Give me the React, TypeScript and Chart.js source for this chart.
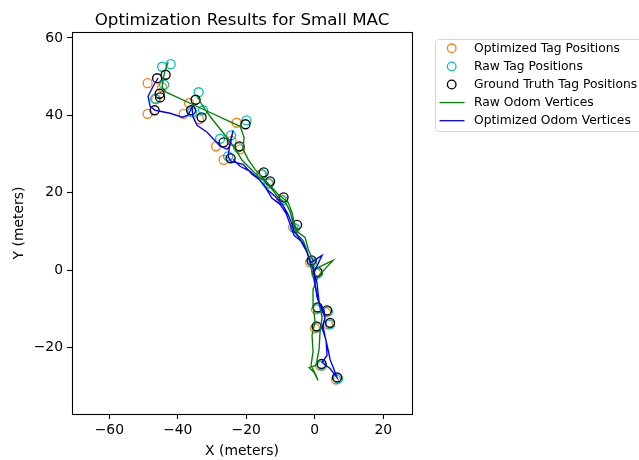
import React, { useEffect, useRef } from 'react';
import { Chart, registerables } from 'chart.js';

Chart.register(...registerables);

const TITLE = 'Optimization Results for Small MAC';
const X_LABEL = 'X (meters)';
const Y_LABEL = 'Y (meters)';
const X_TICKS = [-60, -40, -20, 0, 20];
const Y_TICKS = [-20, 0, 20, 40, 60];
const X_RANGE = [-70.9, 28.4];
const Y_RANGE = [-37.2, 61.55];

const SERIES_NAMES = [
  'Optimized Tag Positions',
  'Raw Tag Positions',
  'Ground Truth Tag Positions',
  'Raw Odom Vertices',
  'Optimized Odom Vertices',
];

// Optimized tag positions
const OPT_TAG_X = [-48.82, -48.82, -38.31, -36.7, -46.34, -44.58, -22.83, -28.82, -26.63, -24.29, -21.81, -15.68, -13.64, -9.84, -6.34, -1.37, 0.38, 0.38, 3.3, 0.09, 3.88, 1.55, 6.22, -33.78];
const OPT_TAG_Y = [48.31, 40.41, 40.41, 43.13, 44.17, 47.27, 38.09, 32.01, 28.51, 33.43, 31.23, 24.76, 22.43, 18.29, 11.05, 1.99, -0.85, -10.17, -10.95, -15.08, -14.05, -24.66, -28.28, 38.99];

// Raw tag positions
const RAW_TAG_X = [-42.1, -44.58, -44.0, -46.63, -33.93, -32.61, -35.82, -19.91, -27.65, -24.44, -22.39, -25.31, -15.39, -13.34, -9.26, -5.75, -0.79, 0.96, 0.96, 3.88, 0.67, 4.47, 2.13, 6.8];
const RAW_TAG_Y = [53.22, 52.57, 47.92, 44.29, 45.98, 41.32, 40.8, 38.73, 33.95, 34.85, 31.75, 29.42, 24.76, 22.43, 18.03, 10.79, 1.99, -0.85, -9.91, -10.69, -14.82, -14.05, -24.66, -28.02];

// Ground truth tag positions
const GT_TAG_X = [-43.56, -46.04, -45.31, -45.17, -46.77, -34.8, -36.12, -33.05, -20.23, -26.63, -21.96, -24.58, -14.9, -13.05, -9.11, -5.17, -0.93, 0.82, 0.82, 3.59, 0.53, 4.47, 1.99, 6.51];
const GT_TAG_Y = [50.5, 49.6, 45.59, 44.63, 41.32, 44.04, 41.32, 39.5, 37.7, 33.04, 32.0, 28.9, 25.28, 22.95, 18.8, 11.67, 2.51, -0.47, -9.65, -10.43, -14.54, -13.64, -24.26, -27.75];

// Raw odometry vertices
const RAW_ODOM_X = [-42.83, -43.71, -44.29, -44.58, -43.42, -32.61, -21.81, -20.64, -20.93, -19.47, -17.43, -15.39, -13.05, -10.72, -7.8, -6.63, -6.04, -4.88, -2.83, -1.96, -0.79, -0.2, 5.34, 0.96, -0.5, -0.5, 0.09, -0.79, -0.5, -1.08, 0.38, 0.96, -0.2, -1.66, 0.38, 1.26, 1.55, 2.13, 1.26, 0.38, -0.5, -1.37, -2.25, -3.42, -5.17, -6.34, -7.21, -8.38, -10.72, -12.47, -14.22, -16.55, -18.89, -21.23, -22.98, -25.02, -27.36, -29.69, -31.45, -33.2, -34.36];
const RAW_ODOM_Y = [53.74, 51.67, 49.34, 47.27, 45.98, 41.58, 37.18, 34.33, 31.23, 28.64, 26.05, 23.98, 21.91, 19.59, 17.52, 14.93, 12.08, 9.75, 8.46, 5.61, 3.03, 0.18, 2.51, -1.63, -4.99, -9.13, -13.27, -16.9, -21.03, -24.66, -27.24, -28.54, -26.47, -25.17, -24.66, -20.52, -15.86, -12.24, -8.62, -4.99, -1.63, 1.73, 5.1, 7.68, 9.24, 12.08, 15.19, 17.26, 18.81, 20.88, 22.69, 24.24, 26.31, 28.38, 30.97, 33.56, 36.14, 38.73, 40.8, 43.13, 44.94];

// Optimized odometry vertices
const OPT_ODOM_X = [-45.75, -47.21, -48.67, -48.09, -46.63, -42.25, -38.74, -36.99, -35.82, -35.53, -34.36, -31.45, -27.65, -25.61, -24.73, -23.85, -24.73, -25.31, -24.44, -20.93, -18.31, -15.97, -13.64, -11.59, -9.26, -7.8, -6.63, -6.04, -4.88, -3.42, -2.25, -1.37, -0.2, 0.67, 1.26, 2.72, 3.01, 2.42, 3.01, 3.88, 4.47, 5.64, 6.51, 4.47, 2.13, 3.59, 3.3, 2.13, 3.01, 1.84, 0.67, 0.09, -0.2, 2.13, -1.08, -2.54, -4.0, -6.04, -7.21, -8.38, -10.13, -12.47, -14.22, -16.26, -18.89, -21.81, -23.85];
const OPT_ODOM_Y = [49.6, 47.53, 44.94, 42.35, 41.32, 40.54, 39.51, 40.03, 42.1, 39.51, 37.44, 35.63, 32.0, 31.23, 32.26, 36.14, 33.04, 29.42, 28.12, 27.35, 24.76, 23.21, 20.62, 19.07, 16.74, 14.41, 11.82, 10.01, 8.72, 6.91, 4.58, 2.25, -0.34, -3.44, -8.36, -10.43, -12.24, -14.57, -17.15, -20.52, -23.1, -25.69, -27.76, -25.43, -23.88, -22.07, -18.19, -14.83, -12.24, -9.65, -7.06, -3.7, -0.6, 3.8, 1.99, 5.1, 7.43, 8.98, 11.82, 14.67, 17.0, 18.55, 21.14, 23.47, 25.54, 26.83, 28.64];

const COLORS = ['#ff7f0e', '#00bfbf', '#000000', '#008000', '#0000ff'];

const FONT = '"DejaVu Sans", Verdana, sans-serif';

function pts(xs: number[], ys: number[]) {
  return xs.map((x, i) => ({ x, y: ys[i] }));
}

const fmt = (v: number) => (v < 0 ? '\u2212' + Math.abs(v) : String(v));

const decorPlugin = {
  id: 'decor',
  afterDraw(chart: any) {
    const { ctx, chartArea } = chart;
    const { left, right, top, bottom } = chartArea;
    ctx.save();
    // frame
    ctx.strokeStyle = '#000';
    ctx.lineWidth = 1.1;
    ctx.strokeRect(Math.round(left) + 0.5, Math.round(top) + 0.5, Math.round(right - left), Math.round(bottom - top));
    // title
    ctx.fillStyle = '#000';
    ctx.font = `16.7px ${FONT}`;
    ctx.textAlign = 'center';
    ctx.textBaseline = 'alphabetic';
    ctx.fillText(TITLE, (left + right) / 2, 25);
    // axis labels
    ctx.font = `13.9px ${FONT}`;
    ctx.fillText(X_LABEL, (left + right) / 2, 455);
    ctx.save();
    ctx.translate(23, (top + bottom) / 2);
    ctx.rotate(-Math.PI / 2);
    ctx.fillText(Y_LABEL, 0, 0);
    ctx.restore();
    // legend
    const bx = 435.5, by = 39.5, bw = 212, bh = 92, r = 3;
    ctx.beginPath();
    ctx.moveTo(bx + r, by);
    ctx.lineTo(bx + bw - r, by);
    ctx.quadraticCurveTo(bx + bw, by, bx + bw, by + r);
    ctx.lineTo(bx + bw, by + bh - r);
    ctx.quadraticCurveTo(bx + bw, by + bh, bx + bw - r, by + bh);
    ctx.lineTo(bx + r, by + bh);
    ctx.quadraticCurveTo(bx, by + bh, bx, by + bh - r);
    ctx.lineTo(bx, by + r);
    ctx.quadraticCurveTo(bx, by, bx + r, by);
    ctx.closePath();
    ctx.fillStyle = 'rgba(255,255,255,0.8)';
    ctx.fill();
    ctx.strokeStyle = '#d6d6d6';
    ctx.lineWidth = 1;
    ctx.stroke();
    ctx.font = `12.3px ${FONT}`;
    ctx.textAlign = 'left';
    ctx.textBaseline = 'middle';
    SERIES_NAMES.forEach((name, i) => {
      const cy = 48.3 + i * 18.1;
      ctx.strokeStyle = COLORS[i];
      if (i < 3) {
        ctx.lineWidth = 1.3;
        ctx.beginPath();
        ctx.arc(451.7, cy, 4.3, 0, Math.PI * 2);
        ctx.stroke();
      } else {
        ctx.lineWidth = 1.3;
        ctx.beginPath();
        ctx.moveTo(439.5, cy);
        ctx.lineTo(464.5, cy);
        ctx.stroke();
      }
      ctx.fillStyle = '#000';
      ctx.fillText(name, 474, cy + 0.5);
    });
    ctx.restore();
  },
};

export default function App() {
  const ref = useRef<HTMLCanvasElement>(null);
  useEffect(() => {
    const scatterDs = (i: number, xs: number[], ys: number[], order: number) => ({
      label: SERIES_NAMES[i],
      data: pts(xs, ys),
      showLine: false,
      pointStyle: 'circle',
      pointRadius: 4.5,
      pointHoverRadius: 4.5,
      pointBorderWidth: 1.3,
      pointBorderColor: COLORS[i],
      pointBackgroundColor: 'rgba(0,0,0,0)',
      borderColor: COLORS[i],
      backgroundColor: 'rgba(0,0,0,0)',
      order,
    });
    const lineDs = (i: number, xs: number[], ys: number[], order: number) => ({
      label: SERIES_NAMES[i],
      data: pts(xs, ys),
      showLine: true,
      pointRadius: 0,
      pointHoverRadius: 0,
      borderColor: COLORS[i],
      borderWidth: 1.35,
      tension: 0,
      fill: false,
      order,
    });
    const tickFont = { family: FONT, size: 13.9 };
    const chart = new Chart(ref.current as HTMLCanvasElement, {
      type: 'scatter',
      data: {
        datasets: [
          scatterDs(0, OPT_TAG_X, OPT_TAG_Y, 4),
          scatterDs(1, RAW_TAG_X, RAW_TAG_Y, 3),
          scatterDs(2, GT_TAG_X, GT_TAG_Y, 2),
          lineDs(3, RAW_ODOM_X, RAW_ODOM_Y, 1),
          lineDs(4, OPT_ODOM_X, OPT_ODOM_Y, 0),
        ] as any,
      },
      options: {
        animation: false,
        responsive: false,
        devicePixelRatio: 1,
        events: [],
        layout: { padding: { left: 0, right: 227, top: 32, bottom: 0 } },
        plugins: {
          legend: { display: false },
          title: { display: false },
          tooltip: { enabled: false },
        },
        scales: {
          x: {
            type: 'linear',
            position: 'bottom',
            min: X_RANGE[0],
            max: X_RANGE[1],
            afterFit: (s: any) => { s.height = 46; },
            afterBuildTicks: (s: any) => { s.ticks = X_TICKS.map((v) => ({ value: v })); },
            grid: { display: true, drawOnChartArea: false, drawTicks: true, tickLength: 5, tickWidth: 1.1, tickColor: '#000', color: '#000' },
            border: { display: false },
            ticks: { color: '#000', font: tickFont, padding: 3, maxRotation: 0, autoSkip: false, callback: (v: any) => fmt(Number(v)) },
          },
          y: {
            type: 'linear',
            position: 'left',
            min: Y_RANGE[0],
            max: Y_RANGE[1],
            afterFit: (s: any) => { s.width = 72; },
            afterBuildTicks: (s: any) => { s.ticks = Y_TICKS.map((v) => ({ value: v })); },
            grid: { display: true, drawOnChartArea: false, drawTicks: true, tickLength: 5, tickWidth: 1.1, tickColor: '#000', color: '#000' },
            border: { display: false },
            ticks: { color: '#000', font: tickFont, padding: 4, autoSkip: false, callback: (v: any) => fmt(Number(v)) },
          },
        },
      } as any,
      plugins: [decorPlugin],
    });
    return () => chart.destroy();
  }, []);
  return (
    <div style={{ position: 'fixed', left: 0, top: 0, width: 639, height: 460, background: '#fff' }}>
      <canvas ref={ref} width={639} height={460} style={{ display: 'block', width: 639, height: 460 }} />
    </div>
  );
}
